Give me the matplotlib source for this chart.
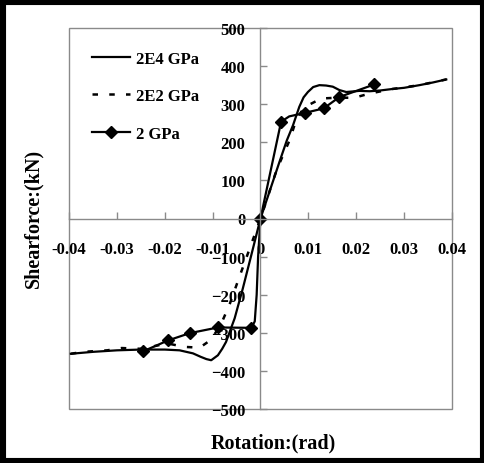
import numpy as np
import matplotlib.pyplot as plt
from matplotlib.patches import Rectangle

# shear force (kN) vs rotation (rad)
rot_2e4 = [-0.0396, -0.035, -0.030, -0.025, -0.020, -0.0169, -0.0141, -0.0125,
           -0.0113, -0.0103, -0.0089, -0.0080, -0.0072, -0.0054, -0.0037, -0.0020,
           0.0, 0.0020, 0.0040, 0.0055, 0.0068, 0.0081, 0.0090, 0.0099, 0.0110,
           0.0123, 0.0137, 0.0151, 0.0165, 0.0179, 0.0207, 0.0228, 0.0250, 0.0276,
           0.0300, 0.0332, 0.0360, 0.0388]
shear_2e4 = [-355, -350, -346, -344, -344, -346, -354, -363,
             -369, -372, -359, -342, -324, -262, -184, -100,
             0, 75, 150, 205, 245, 293, 318, 332, 345,
             350, 349, 346, 337, 332, 335, 334, 336, 340,
             343, 350, 357, 365]

rot_2e2 = [-0.0396, -0.037, -0.032, -0.029, -0.025, -0.0194, -0.0159, -0.0127,
           -0.0103, -0.0082, -0.0065, -0.0044, -0.0020, 0.0, 0.0012, 0.0033,
           0.0047, 0.0061, 0.0071, 0.0085, 0.0099, 0.0127, 0.0160, 0.0196,
           0.0228, 0.0276, 0.0332, 0.0388]
shear_2e2 = [-355, -350, -346, -340, -342, -328, -337, -339,
             -318, -276, -227, -153, -70, 0, 45, 125,
             166, 206, 245, 280, 297, 315, 317, 317,
             328, 340, 350, 365]

rot_2 = [-0.0246, -0.0193, -0.0148, -0.0089, -0.0019, -0.0012, -0.0008, -0.0005,
         0.0, 0.0043, 0.0060, 0.0092, 0.0132, 0.0165, 0.0238]
shear_2 = [-349, -320, -301, -286, -287, -270, -200, -100,
           0, 254, 268, 277, 289, 319, 352]
marks_2 = [0, 1, 2, 3, 4, 8, 9, 11, 12, 13, 14]

xticks = [-0.04, -0.03, -0.02, -0.01, 0, 0.01, 0.02, 0.03, 0.04]
xticklabels = ['-0.04', '-0.03', '-0.02', '-0.01', '0', '0.01', '0.02', '0.03', '0.04']
yticks = [-500, -400, -300, -200, -100, 0, 100, 200, 300, 400, 500]

plt.rcParams['font.family'] = 'Liberation Serif'
plt.rcParams['font.weight'] = 'bold'

fig = plt.figure(figsize=(4.85, 4.64), dpi=100)
ax = fig.add_axes([69 / 485, 54 / 464, 383 / 485, 381 / 464])

ax.plot(rot_2e4, shear_2e4, color='black', lw=1.6, label='2E4 GPa')
ax.plot(rot_2e2, shear_2e2, color='black', lw=1.8, dashes=(2.2, 4.5), label='2E2 GPa')
ax.plot(rot_2, shear_2, color='black', lw=1.6, marker='D', markersize=6,
        markevery=marks_2, label='2 GPa')

ax.set_xlim(-0.04, 0.04)
ax.set_ylim(-500, 500)

# axes cross at zero, like the excel chart
for s in ['left', 'bottom']:
    ax.spines[s].set_position(('data', 0))
    ax.spines[s].set_color('#8a8a8a')
    ax.spines[s].set_linewidth(1.0)
for s in ['top', 'right']:
    ax.spines[s].set_visible(False)
ax.add_patch(Rectangle((0, 0), 1, 1, transform=ax.transAxes, fill=False,
                       edgecolor='#8a8a8a', lw=1.0, clip_on=False, zorder=1))

ax.set_xticks(xticks)
ax.set_xticklabels(xticklabels)
ax.set_yticks(yticks)
ax.tick_params(axis='x', direction='in', length=5, width=1, color='#8a8a8a',
               pad=16, labelsize=12)
ax.tick_params(axis='y', direction='in', length=5, width=1, color='#8a8a8a',
               pad=11, labelsize=12)

fig.text(273 / 485, 1 - 443 / 464, 'Rotation:(rad)', ha='center', va='center',
         fontsize=14.5, fontweight='bold')
fig.text(33 / 485, 1 - 218 / 464, 'Shearforce:(kN)', ha='center', va='center',
         rotation=90, fontsize=14.5, fontweight='bold')

ax.legend(loc='upper left', bbox_to_anchor=(0.06, 0.94), frameon=False,
          borderaxespad=0, borderpad=0, handlelength=2.3, handletextpad=0.35,
          labelspacing=1.28, prop={'size': 12, 'weight': 'bold'})

# thick black frame around the picture
fig.patches.append(Rectangle((0, 0), 1, 1, transform=fig.transFigure, fill=False,
                             edgecolor='black', lw=8, zorder=10))

fig.savefig('out.png', dpi=100)
